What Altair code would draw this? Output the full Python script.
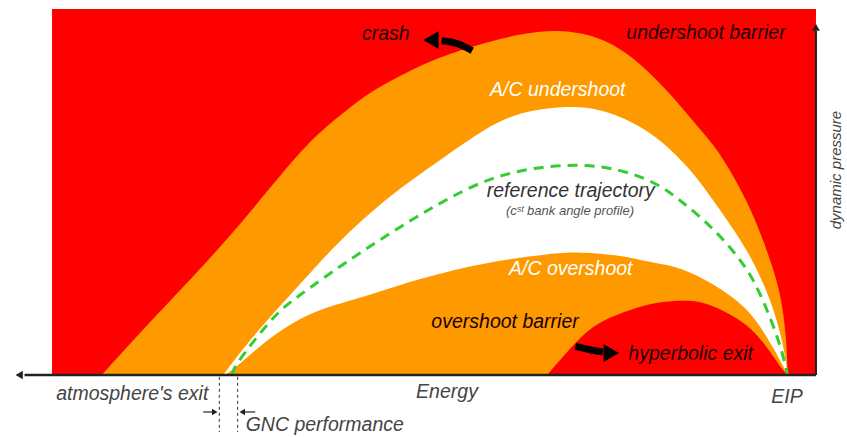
import altair as alt
import pandas as pd

# Schematic units: energy E and dynamic pressure P, the coloured box spans 0..100 on both.
E_MIN, E_MAX = -6.81, 104.06
P_MIN, P_MAX = -16.94, 102.46

box_energy = [0, 100]
box_pressure = [0, 100]

# undershoot barrier (outer edge of the orange corridor)
outer_E = [6.5, 11.5, 16.8, 22.9, 28.3, 33.4, 37.7, 42.0, 46.5, 50.8, 54.7, 61.3, 66.8, 72.1, 76.6, 80.9, 85.2, 87.4, 91.0, 93.6, 95.3, 96.1, 96.3]
outer_P = [0.0, 11.5, 23.2, 36.9, 50.5, 63.4, 71.0, 77.9, 82.8, 86.9, 89.6, 93.4, 94.5, 92.3, 86.1, 77.0, 66.1, 60.9, 47.8, 34.2, 23.2, 11.5, 0.0]

# A/C undershoot limit (top of the white corridor)
inner_E = [22.4, 25.9, 30.2, 33.8, 37.7, 44.2, 50.8, 56.9, 61.3, 66.9, 71.7, 77.0, 80.9, 84.2, 86.5, 88.7, 91.0, 93.6, 95.3, 96.1, 96.3]
inner_P = [0.0, 9.6, 19.7, 27.9, 36.9, 49.2, 58.7, 67.8, 71.9, 73.5, 73.0, 68.3, 62.0, 54.6, 47.8, 41.3, 34.2, 23.2, 12.3, 3.6, 0.0]

# A/C overshoot limit (bottom of the white corridor)
over_E = [22.6, 23.7, 28.1, 32.5, 36.8, 40.3, 48.2, 56.9, 65.6, 69.1, 74.3, 78.7, 82.2, 86.5, 91.0, 93.6, 95.3, 96.3]
over_P = [0.0, 1.4, 9.6, 15.8, 19.1, 21.0, 26.5, 30.9, 33.3, 33.6, 32.8, 30.6, 29.5, 25.1, 18.6, 10.4, 4.1, 0.0]

# overshoot barrier (hyperbolic exit region)
hyp_E = [64.8, 67.1, 70.0, 73.0, 76.6, 80.2, 83.9, 86.5, 91.0, 93.6, 95.3, 96.3]
hyp_P = [0.0, 5.5, 12.3, 15.8, 18.6, 20.2, 20.5, 19.1, 14.2, 7.7, 2.2, 0.0]

# reference trajectory
ref_E = [23.6, 23.7, 26.8, 29.8, 32.5, 35.5, 39.9, 46.5, 52.1, 58.6, 67.4, 74.0, 79.2, 82.2, 86.5, 91.0, 93.1, 95.3, 96.3]
ref_P = [0.0, 1.9, 10.4, 17.8, 21.9, 26.5, 32.8, 41.8, 48.6, 55.2, 57.9, 56.6, 52.5, 47.8, 40.4, 29.5, 20.5, 8.7, 0.0]

# curved arrows
crash_arrow_E = [55.0, 53.1, 51.0]
crash_arrow_P = [88.6, 90.5, 91.3]
crash_head = (49.6, 91.5)
hyp_arrow_E = [68.5, 70.4, 72.1]
hyp_arrow_P = [7.8, 6.9, 6.3]
hyp_head = (73.2, 6.0)

# axes
h_axis_E = [-3.6, 100]
v_axis_P = [0, 94]
gnc_E = [21.9, 24.3]
gnc_P = [-0.5, -15.6]
gnc_arrow_left_E = [19.8, 21.2]
gnc_arrow_right_E = [25.0, 26.6]
gnc_arrow_P = -10.1

labels_dark = ["crash", "undershoot barrier", "overshoot barrier", "hyperbolic exit"]
labels_dark_E = [43.7, 85.6, 59.3, 83.6]
labels_dark_P = [93.2, 93.4, 14.5, 5.7]

labels_white = ["A/C undershoot", "A/C overshoot"]
labels_white_E = [66.2, 67.9]
labels_white_P = [77.9, 29.0]

labels_axis = ["atmosphere's exit", "Energy", "EIP", "GNC performance"]
labels_axis_E = [10.5, 51.7, 96.2, 35.7]
labels_axis_P = [-5.2, -4.6, -6.0, -13.7]

FONT = "Liberation Sans"
RED = "#ff0000"
ORANGE = "#fe9a00"
CURVE = "basis"


def X(f="E"):
    return alt.X(f"{f}:Q", scale=alt.Scale(domain=[E_MIN, E_MAX], nice=False, zero=False), axis=None)


def Y(f="P"):
    return alt.Y(f"{f}:Q", scale=alt.Scale(domain=[P_MIN, P_MAX], nice=False, zero=False), axis=None)


def df(E, P):
    return pd.DataFrame({"E": E, "P": P})


box = alt.Chart(pd.DataFrame({"E": [box_energy[0]], "E2": [box_energy[1]], "P": [box_pressure[0]], "P2": [box_pressure[1]]})).mark_rect(
    color=RED).encode(x=X("E"), x2="E2:Q", y=Y("P"), y2="P2:Q")


def area(E, P, color):
    return alt.Chart(df(E, P)).mark_area(color=color, interpolate=CURVE, opacity=1).encode(
        x=X(), y=Y(), y2=alt.datum(0))


outer = area(outer_E, outer_P, ORANGE)
inner = area(inner_E, inner_P, "#ffffff")
over = area(over_E, over_P, ORANGE)
hyp = area(hyp_E, hyp_P, RED)

ref = alt.Chart(df(ref_E, ref_P)).mark_line(
    color="#33cc33", strokeWidth=3, strokeDash=[10, 7], interpolate=CURVE).encode(x=X(), y=Y())

crash_line = alt.Chart(df(crash_arrow_E, crash_arrow_P)).mark_line(
    color="black", strokeWidth=7, interpolate="monotone").encode(x=X(), y=Y())
crash_tip = alt.Chart(df([crash_head[0]], [crash_head[1]])).mark_point(
    shape="triangle-left", filled=True, size=320, color="black", opacity=1).encode(x=X(), y=Y())
hyp_line = alt.Chart(df(hyp_arrow_E, hyp_arrow_P)).mark_line(
    color="black", strokeWidth=7, interpolate="monotone").encode(x=X(), y=Y())
hyp_tip = alt.Chart(df([hyp_head[0]], [hyp_head[1]])).mark_point(
    shape="triangle-right", filled=True, size=320, color="black", opacity=1).encode(x=X(), y=Y())

h_axis = alt.Chart(df(h_axis_E, [0, 0])).mark_line(color="#222", strokeWidth=2.5).encode(x=X(), y=Y())
h_tip = alt.Chart(df([-4.3], [0])).mark_point(
    shape="triangle-left", filled=True, size=70, color="#222", opacity=1).encode(x=X(), y=Y())
v_axis = alt.Chart(df([100, 100], v_axis_P)).mark_line(color="#222", strokeWidth=2).encode(x=X(), y=Y())
v_tip = alt.Chart(df([100], [95.0])).mark_point(
    shape="triangle-up", filled=True, size=60, color="#222", opacity=1).encode(x=X(), y=Y())

gnc_rows = []
for i, e in enumerate(gnc_E):
    gnc_rows += [{"E": e, "P": gnc_P[0], "g": i}, {"E": e, "P": gnc_P[1], "g": i}]
gnc_lines = alt.Chart(pd.DataFrame(gnc_rows)).mark_line(
    color="#333", strokeWidth=1, strokeDash=[3, 3]).encode(x=X(), y=Y(), detail="g:N")
gnc_arr_rows = [{"E": gnc_arrow_left_E[0], "P": gnc_arrow_P, "g": 0}, {"E": gnc_arrow_left_E[1], "P": gnc_arrow_P, "g": 0},
                {"E": gnc_arrow_right_E[0], "P": gnc_arrow_P, "g": 1}, {"E": gnc_arrow_right_E[1], "P": gnc_arrow_P, "g": 1}]
gnc_arr = alt.Chart(pd.DataFrame(gnc_arr_rows)).mark_line(color="#222", strokeWidth=1.2).encode(x=X(), y=Y(), detail="g:N")
gnc_tip_r = alt.Chart(df([21.3], [gnc_arrow_P])).mark_point(
    shape="triangle-right", filled=True, size=40, color="#222", opacity=1).encode(x=X(), y=Y())
gnc_tip_l = alt.Chart(df([24.9], [gnc_arrow_P])).mark_point(
    shape="triangle-left", filled=True, size=40, color="#222", opacity=1).encode(x=X(), y=Y())


def texts(labels, E, P, color, size, angle=0):
    d = pd.DataFrame({"E": E, "P": P, "t": labels})
    kw = dict(align="center", baseline="middle", font=FONT, fontStyle="italic", fontSize=size, color=color)
    if angle:
        kw["angle"] = angle
    return alt.Chart(d).mark_text(**kw).encode(x=X(), y=Y(), text="t:N")


t_dark = texts(labels_dark, labels_dark_E, labels_dark_P, "#1a0000", 19.5)
t_white = texts(labels_white, labels_white_E, labels_white_P, "#ffffff", 19.5)
t_ref = texts(["reference trajectory"], [67.9], [50.3], "#333333", 19.5)
t_sub = texts(["(cˢᵗ bank angle profile)"], [67.8], [44.8], "#555555", 13)
t_axis = texts(labels_axis, labels_axis_E, labels_axis_P, "#444444", 19.5)
t_dyn = texts(["dynamic pressure"], [102.6], [56.0], "#444444", 15, angle=270)

chart = alt.layer(
    box, outer, inner, over, hyp, ref,
    crash_line, crash_tip, hyp_line, hyp_tip,
    h_axis, h_tip, v_axis, v_tip, gnc_lines, gnc_arr, gnc_tip_r, gnc_tip_l,
    t_dark, t_white, t_ref, t_sub, t_axis, t_dyn,
).properties(
    width=847, height=437, padding=0,
    autosize=alt.AutoSizeParams(type="none"),
    background="white",
).configure_view(stroke=None)

chart.save("out.html", embed_options={"renderer": "svg", "actions": False})
